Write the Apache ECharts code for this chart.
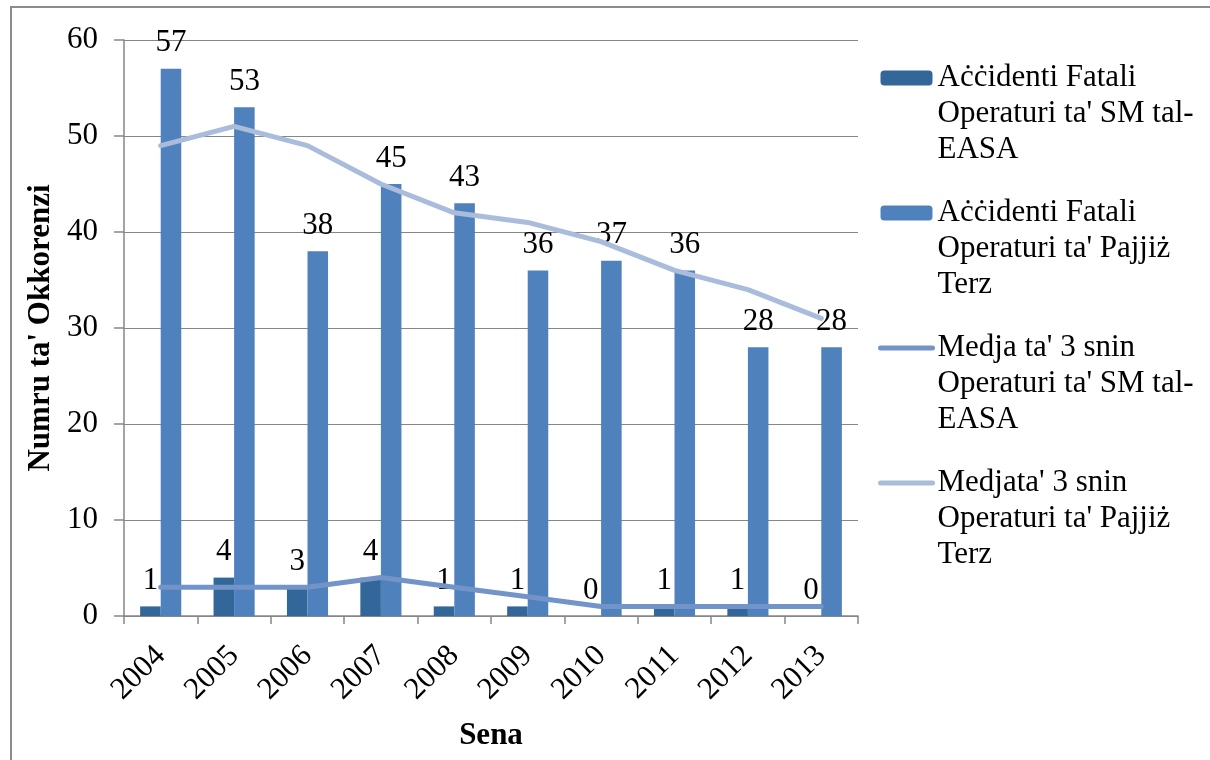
<!DOCTYPE html>
<html>
<head>
<meta charset="utf-8">
<script src="https://cdn.jsdelivr.net/npm/echarts@6/dist/echarts.min.js"></script>
<style>
html,body{margin:0;padding:0;background:#fff;}
#chart{width:1210px;height:760px;}
</style>
</head>
<body>
<div id="chart"></div>
<script>
const years = ['2004','2005','2006','2007','2008','2009','2010','2011','2012','2013'];
const smFatal = [1,4,3,4,1,1,0,1,1,0];
const thirdFatal = [57,53,38,45,43,36,37,36,28,28];
const smAvg = [3,3,3,4,3,2,1,1,1,1];
const thirdAvg = [49,51,49,45,42,41,39,36,34,31];
const yTicks = [0,10,20,30,40,50,60];
const seriesNames = [
  "Aċċidenti Fatali\nOperaturi ta' SM tal-\nEASA",
  "Aċċidenti Fatali\nOperaturi ta' Pajjiż\nTerz",
  "Medja ta' 3 snin\nOperaturi ta' SM tal-\nEASA",
  "Medjata' 3 snin\nOperaturi ta' Pajjiż\nTerz"
];
const yAxisTitle = "Numru ta' Okkorenzi";
const xAxisTitle = "Sena";

const FONT = 'Liberation Serif';
const FS = 31;
const chart = echarts.init(document.getElementById('chart'));
const labelStyle = {show:true, position:'top', distance:10, color:'#000', fontFamily:FONT, fontSize:FS};
chart.setOption({
  animation:false,
  backgroundColor:'#fff',
  graphic:[{type:'rect', shape:{x:11, y:7, width:1230, height:800}, style:{fill:'none', stroke:'#8c8c8c', lineWidth:2}, silent:true}],
  grid:{left:124, right:352, top:40, bottom:144, containLabel:false, outerBoundsMode:'none'},
  legend:{
    orient:'vertical', left:873, top:-17, itemGap:-45,
    itemWidth:52, itemHeight:15,
    lineStyle:{width:'inherit'},
    formatter:function(n){return '\n\n' + n;},
    textStyle:{color:'#000', fontFamily:FONT, fontSize:FS, lineHeight:36},
    data:[
      {name:seriesNames[0]},
      {name:seriesNames[1]},
      {name:seriesNames[2], itemStyle:{opacity:0}},
      {name:seriesNames[3], itemStyle:{opacity:0}}
    ]
  },
  xAxis:{
    type:'category', data:years,
    axisLine:{lineStyle:{color:'#868686', width:1.5}},
    axisTick:{show:true, length:8, lineStyle:{color:'#868686', width:1.5}},
    axisLabel:{rotate:45, margin:35, color:'#000', fontFamily:FONT, fontSize:FS},
    name:xAxisTitle, nameLocation:'middle', nameGap:104,
    nameTextStyle:{color:'#000', fontFamily:FONT, fontSize:FS, fontWeight:'bold'}
  },
  yAxis:{
    type:'value', min:yTicks[0], max:yTicks[yTicks.length-1], interval:10,
    axisLine:{show:true, lineStyle:{color:'#868686', width:1.5}},
    axisTick:{show:true, length:10, lineStyle:{color:'#868686', width:1.5}},
    splitLine:{lineStyle:{color:'#868686', width:1}},
    axisLabel:{margin:26, color:'#000', fontFamily:FONT, fontSize:FS},
    name:yAxisTitle, nameLocation:'middle', nameGap:58,
    nameTextStyle:{color:'#000', fontFamily:FONT, fontSize:FS, fontWeight:'bold'}
  },
  series:[
    {name:seriesNames[0], type:'bar', data:smFatal, barGap:'0%', barCategoryGap:'44%',
     itemStyle:{color:'#336699'}, label:labelStyle, z:2},
    {name:seriesNames[1], type:'bar', data:thirdFatal,
     itemStyle:{color:'#4f81bd'}, label:labelStyle, z:2},
    {name:seriesNames[2], type:'line', data:smAvg, symbol:'none',
     lineStyle:{color:'#7394c9', width:5, cap:'round'}, itemStyle:{color:'#7394c9'}, z:3},
    {name:seriesNames[3], type:'line', data:thirdAvg, symbol:'none',
     lineStyle:{color:'#a9bcdb', width:5, cap:'round'}, itemStyle:{color:'#a9bcdb'}, z:3}
  ]
});
</script>
</body>
</html>
